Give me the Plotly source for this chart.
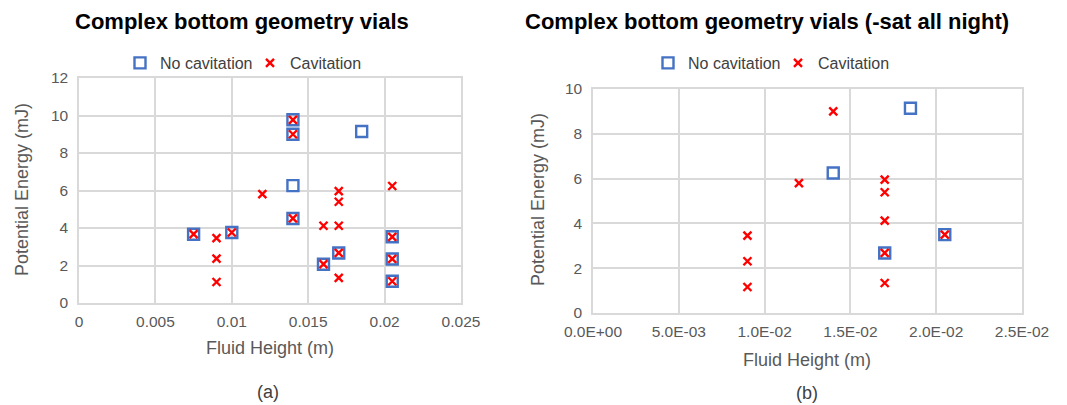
import plotly.graph_objects as go

# Panel (a)
a_nocav_x = [0.0075, 0.010, 0.014, 0.014, 0.014, 0.014, 0.0185, 0.016, 0.017, 0.0205, 0.0205, 0.0205]
a_nocav_y = [3.67, 3.76, 9.77, 9.0, 6.26, 4.51, 9.15, 2.07, 2.67, 3.53, 2.35, 1.16]
a_cav_x = [0.0075, 0.009, 0.009, 0.009, 0.010, 0.012, 0.014, 0.014, 0.014, 0.016, 0.016,
           0.017, 0.017, 0.017, 0.017, 0.017, 0.0205, 0.0205, 0.0205, 0.0205]
a_cav_y = [3.67, 3.46, 2.37, 1.12, 3.76, 5.81, 9.77, 9.0, 4.51, 4.12, 2.07,
           5.97, 5.40, 4.12, 2.67, 1.34, 6.24, 3.53, 2.35, 1.16]

# Panel (b)
b_nocav_x = [0.014, 0.0185, 0.017, 0.0205]
b_nocav_y = [6.25, 9.14, 2.68, 3.50]
b_cav_x = [0.009, 0.009, 0.009, 0.012, 0.014, 0.017, 0.017, 0.017, 0.017, 0.017, 0.0205]
b_cav_y = [3.45, 2.31, 1.16, 5.80, 9.0, 5.95, 5.39, 4.12, 2.68, 1.34, 3.50]

a_xticks = [0, 0.005, 0.01, 0.015, 0.02, 0.025]
a_xticklabels = ["0", "0.005", "0.01", "0.015", "0.02", "0.025"]
a_yticks = [0, 2, 4, 6, 8, 10, 12]
b_xticks = [0, 0.005, 0.01, 0.015, 0.02, 0.025]
b_xticklabels = ["0.0E+00", "5.0E-03", "1.0E-02", "1.5E-02", "2.0E-02", "2.5E-02"]
b_yticks = [0, 2, 4, 6, 8, 10]

BLUE = "#4472C4"
RED = "#FF0000"
GRID = "#D9D9D9"
TICK = "#595959"
FONT = "Liberation Sans, Arial, sans-serif"

# page body has an 8px margin; figure sized to fit in the window
W, H, OFF = 1059, 397, 8


def px(x):
    return (x - OFF) / W


def py(y):
    return 1 - (y - OFF) / H


sq = dict(symbol="square-open", size=11, color=BLUE, line=dict(width=2.4, color=BLUE))
xm = dict(symbol="x-thin", size=8, color=RED, line=dict(width=2.4, color=RED))

fig = go.Figure()
fig.add_trace(go.Scatter(x=a_nocav_x, y=a_nocav_y, mode="markers", name="No cavitation",
                         marker=sq, xaxis="x", yaxis="y", legend="legend"))
fig.add_trace(go.Scatter(x=a_cav_x, y=a_cav_y, mode="markers", name="Cavitation",
                         marker=xm, xaxis="x", yaxis="y", legend="legend"))
fig.add_trace(go.Scatter(x=b_nocav_x, y=b_nocav_y, mode="markers", name="No cavitation",
                         marker=sq, xaxis="x2", yaxis="y2", legend="legend2"))
fig.add_trace(go.Scatter(x=b_cav_x, y=b_cav_y, mode="markers", name="Cavitation",
                         marker=xm, xaxis="x2", yaxis="y2", legend="legend2"))

axis_common = dict(showgrid=True, gridcolor=GRID, gridwidth=1.5, showline=True, linecolor=GRID,
                   linewidth=1.5, mirror=True, zeroline=False, ticks="", automargin=False,
                   tickfont=dict(family=FONT, size=15.5, color=TICK))

ann_font = dict(family=FONT, size=18, color=TICK)
title_font = dict(family=FONT, size=22, color="#000000")

legend_common = dict(orientation="h", xanchor="left", yanchor="middle",
                     font=dict(size=16, color="#404040"), itemwidth=30, tracegroupgap=0,
                     entrywidth=85, entrywidthmode="pixels", bgcolor="rgba(0,0,0,0)")

fig.update_layout(
    width=W, height=H,
    margin=dict(l=0, r=0, t=0, b=0, autoexpand=False),
    paper_bgcolor="white", plot_bgcolor="white",
    font=dict(family=FONT, color="#404040"),
    xaxis=dict(domain=[px(79), px(461)], range=[0, 0.025], tickvals=a_xticks,
               ticktext=a_xticklabels, anchor="y", ticklabelstandoff=4, **axis_common),
    yaxis=dict(domain=[py(303), py(78)], range=[0, 12], tickvals=a_yticks, anchor="x",
               ticklabelstandoff=6, **axis_common),
    xaxis2=dict(domain=[px(593), px(1022)], range=[0, 0.025], tickvals=b_xticks,
                ticktext=b_xticklabels, anchor="y2", ticklabelstandoff=4, **axis_common),
    yaxis2=dict(domain=[py(313), py(89)], range=[0, 10], tickvals=b_yticks, anchor="x2",
                ticklabelstandoff=6, **axis_common),
    legend=dict(x=px(120), y=py(63), **legend_common),
    legend2=dict(x=px(648), y=py(63), **legend_common),
    showlegend=True,
    annotations=[
        dict(text="<b>Complex bottom geometry vials</b>", x=px(242), y=py(22),
             xref="paper", yref="paper", showarrow=False, xanchor="center", yanchor="middle",
             font=title_font),
        dict(text="<b>Complex bottom geometry vials (-sat all night)</b>", x=px(767), y=py(22),
             xref="paper", yref="paper", showarrow=False, xanchor="center", yanchor="middle",
             font=title_font),
        dict(text="Fluid Height (m)", x=px(270), y=py(348), xref="paper", yref="paper",
             showarrow=False, xanchor="center", yanchor="middle", font=ann_font),
        dict(text="Fluid Height (m)", x=px(807), y=py(360), xref="paper", yref="paper",
             showarrow=False, xanchor="center", yanchor="middle", font=ann_font),
        dict(text="Potential Energy (mJ)", x=px(22), y=py(190), xref="paper", yref="paper",
             showarrow=False, xanchor="center", yanchor="middle", textangle=-90, font=ann_font),
        dict(text="Potential Energy (mJ)", x=px(538), y=py(200), xref="paper", yref="paper",
             showarrow=False, xanchor="center", yanchor="middle", textangle=-90, font=ann_font),
        dict(text="(a)", x=px(268), y=py(392), xref="paper", yref="paper", showarrow=False,
             xanchor="center", yanchor="middle", font=dict(size=18, color="#404040", family=FONT)),
        dict(text="(b)", x=px(807), y=py(393), xref="paper", yref="paper", showarrow=False,
             xanchor="center", yanchor="middle", font=dict(size=18, color="#404040", family=FONT)),
    ],
)

fig.write_html("out.html")
